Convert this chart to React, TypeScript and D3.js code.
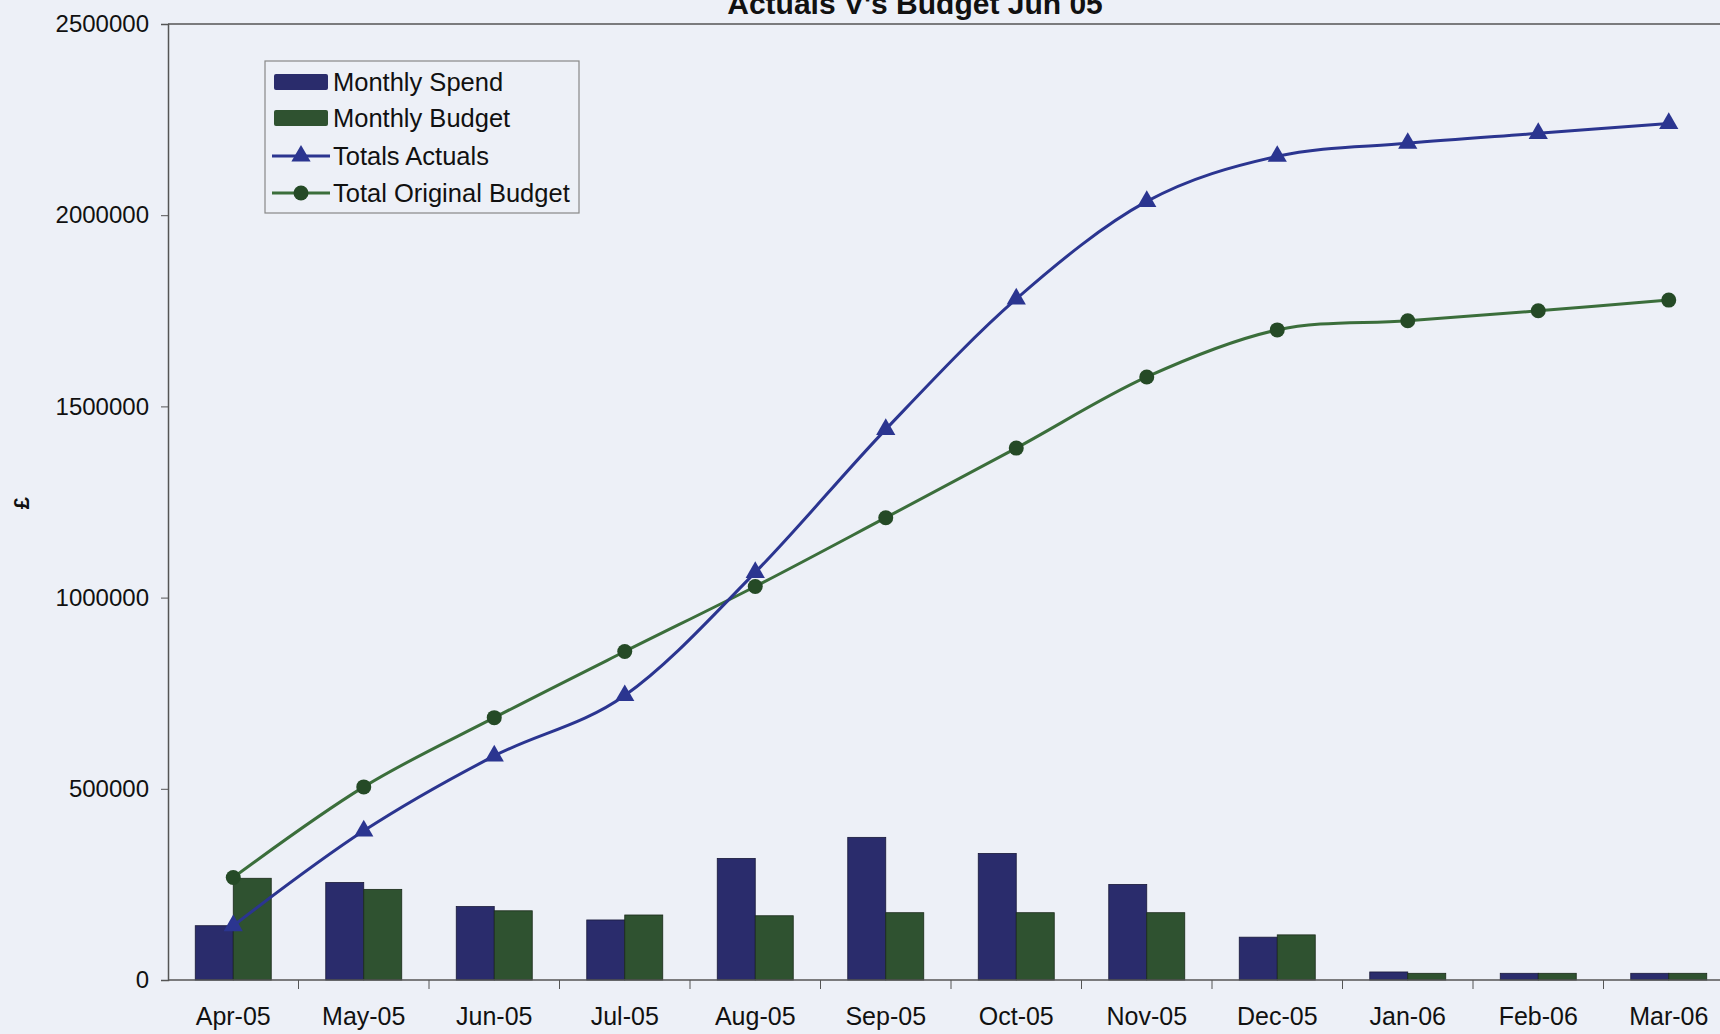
import React, { useEffect, useRef } from "react";
import * as d3 from "d3";

const months = ["Apr-05","May-05","Jun-05","Jul-05","Aug-05","Sep-05","Oct-05","Nov-05","Dec-05","Jan-06","Feb-06","Mar-06"];
const monthlySpend = [142000, 255000, 192000, 157000, 318000, 373000, 331000, 250000, 112000, 21000, 17500, 17500];
const monthlyBudget = [266000, 237000, 181000, 170000, 168000, 176000, 176000, 176000, 118000, 17500, 17500, 17500];
const totalsActuals = [142000, 390000, 586000, 744000, 1066000, 1440000, 1781000, 2036000, 2154000, 2188000, 2214000, 2240000];
const totalOriginalBudget = [268000, 505000, 686000, 859000, 1029000, 1209000, 1391000, 1577000, 1700000, 1724000, 1750000, 1778000];
const yTicks = [0, 500000, 1000000, 1500000, 2000000, 2500000];
const legendItems = ["Monthly Spend", "Monthly Budget", "Totals Actuals", "Total Original Budget"];

const W = 1720, H = 1034;
const BG = "#edf0f7";
const SPEND = "#2a2c6c";
const BUDGET = "#2f5230";
const LINE_A = "#2b3590";
const LINE_B = "#3b6e3b";
const MARK_B = "#254a26";
const FONT = "Liberation Sans, Arial, sans-serif";

export default function App() {
  const ref = useRef<SVGSVGElement>(null);
  useEffect(() => {
    const svg = d3.select(ref.current);
    svg.selectAll("*").remove();
    const left = 168, right = 1734, top = 24, bottom = 980;
    const x = d3.scaleBand<string>().domain(months).range([left, right]);
    const y = d3.scaleLinear().domain([0, 2500000]).range([bottom, top]);
    const barW = 38;

    svg.append("rect").attr("width", W).attr("height", H).attr("fill", BG);

    // title (cut off at the top edge, as in the original)
    svg.append("text").attr("x", 915).attr("y", 13.5).attr("text-anchor", "middle")
      .attr("font-family", FONT).attr("font-size", 30).attr("font-weight", "bold").attr("fill", "#111")
      .text("Actuals V's Budget Jun 05");

    // top border
    svg.append("line").attr("x1", left).attr("x2", W).attr("y1", top).attr("y2", top)
      .attr("stroke", "#555").attr("stroke-width", 1.5);

    // bars
    const g = svg.append("g");
    months.forEach((m, i) => {
      const cx = x(m)! + x.bandwidth() / 2;
      g.append("rect").attr("x", cx - barW).attr("y", y(monthlySpend[i])).attr("width", barW)
        .attr("height", y(0) - y(monthlySpend[i])).attr("fill", SPEND).attr("stroke", "#1a1a3a").attr("stroke-width", 0.8);
      g.append("rect").attr("x", cx).attr("y", y(monthlyBudget[i])).attr("width", barW)
        .attr("height", y(0) - y(monthlyBudget[i])).attr("fill", BUDGET).attr("stroke", "#1a2a1a").attr("stroke-width", 0.8);
    });

    // axes
    const yAxis = d3.axisLeft(y).tickValues(yTicks).tickSize(7).tickPadding(12).tickFormat(d3.format("d") as any);
    const ya = svg.append("g").attr("transform", `translate(${left},0)`).call(yAxis);
    ya.select(".domain").attr("stroke", "#555").attr("stroke-width", 1.5);
    ya.selectAll(".tick line").attr("stroke", "#555");
    ya.selectAll(".tick text").attr("font-family", FONT).attr("font-size", 24).attr("fill", "#111");

    const xa = svg.append("g").attr("transform", `translate(0,${bottom})`);
    xa.append("line").attr("x1", left).attr("x2", W).attr("stroke", "#555").attr("stroke-width", 1.5);
    months.forEach((m, i) => {
      const bx = x(m)!;
      if (i > 0) xa.append("line").attr("x1", bx).attr("x2", bx).attr("y1", 0).attr("y2", 9).attr("stroke", "#555");
      xa.append("text").attr("x", bx + x.bandwidth() / 2).attr("y", 45).attr("text-anchor", "middle")
        .attr("font-family", FONT).attr("font-size", 25).attr("fill", "#111").text(m);
    });

    // y label
    svg.append("text").attr("transform", `translate(29,503) rotate(-90)`).attr("text-anchor", "middle")
      .attr("font-family", FONT).attr("font-size", 22).attr("font-weight", "bold").attr("fill", "#111").text("£");

    // lines
    const cxOf = (i: number) => x(months[i])! + x.bandwidth() / 2;
    const line = d3.line<number>().x((_, i) => cxOf(i)).y(d => y(d)).curve(d3.curveCardinal.tension(0));
    svg.append("path").attr("d", line(totalOriginalBudget)).attr("fill", "none").attr("stroke", LINE_B).attr("stroke-width", 3);
    svg.append("path").attr("d", line(totalsActuals)).attr("fill", "none").attr("stroke", LINE_A).attr("stroke-width", 3);

    const tri = d3.symbol().type(d3.symbolTriangle).size(160);
    totalsActuals.forEach((v, i) => {
      svg.append("path").attr("d", tri()).attr("transform", `translate(${cxOf(i)},${y(v)})`).attr("fill", LINE_A);
    });
    totalOriginalBudget.forEach((v, i) => {
      svg.append("circle").attr("cx", cxOf(i)).attr("cy", y(v)).attr("r", 7.5).attr("fill", MARK_B);
    });

    // legend
    const lg = svg.append("g");
    lg.append("rect").attr("x", 265).attr("y", 61).attr("width", 314).attr("height", 152)
      .attr("fill", BG).attr("stroke", "#888").attr("stroke-width", 1.2);
    const rows = [82, 118, 156, 193];
    legendItems.forEach((name, i) => {
      const ry = rows[i];
      if (i < 2) {
        lg.append("rect").attr("x", 274).attr("y", ry - 8).attr("width", 54).attr("height", 16).attr("rx", 2)
          .attr("fill", i === 0 ? SPEND : BUDGET);
      } else {
        const c = i === 2 ? LINE_A : LINE_B;
        lg.append("line").attr("x1", 272).attr("x2", 330).attr("y1", ry).attr("y2", ry).attr("stroke", c).attr("stroke-width", 3);
        if (i === 2) lg.append("path").attr("d", tri()).attr("transform", `translate(301,${ry})`).attr("fill", LINE_A);
        else lg.append("circle").attr("cx", 301).attr("cy", ry).attr("r", 7.5).attr("fill", MARK_B);
      }
      lg.append("text").attr("x", 333).attr("y", ry + 9).attr("font-family", FONT).attr("font-size", 25.5)
        .attr("fill", "#111").text(name);
    });
  }, []);
  return (
    <svg ref={ref} width={W} height={H} style={{ position: "absolute", left: 0, top: 0, display: "block" }} />
  );
}
